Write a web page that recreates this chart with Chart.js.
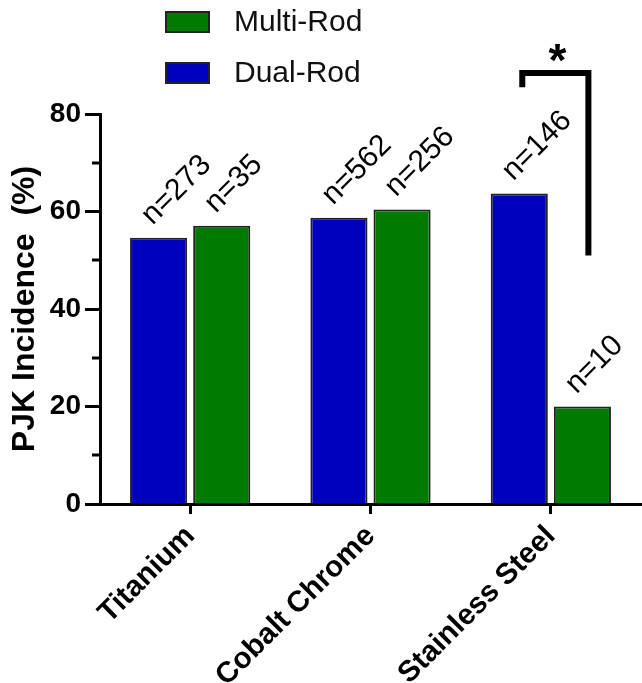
<!DOCTYPE html>
<html>
<head>
<meta charset="utf-8">
<script src="https://cdn.jsdelivr.net/npm/chart.js@4.4.1/dist/chart.umd.min.js"></script>
<style>
  html, body { margin: 0; padding: 0; background: #fff; }
  #wrap { width: 642px; height: 683px; }
</style>
</head>
<body>
<div id="wrap"><canvas id="pjk" width="642" height="683"></canvas></div>
<script>
// PJK incidence by rod material, dual vs multi rod
const categories = ['Titanium', 'Cobalt Chrome', 'Stainless Steel'];
const dualRod = [54.6, 58.7, 63.7];
const multiRod = [57.1, 60.4, 20.0];
const dualN = ['n=273', 'n=562', 'n=146'];
const multiN = ['n=35', 'n=256', 'n=10'];
const yTicks = [0, 20, 40, 60, 80];
const yMinorTicks = [10, 30, 50, 70];
// significance bracket over Stainless Steel (y in axis units)
const sigCategory = 2;
const sigTop = 88.4;
const sigLeftEnd = 85.5;
const sigRightEnd = 51;
const sigMark = '*';

const BLUE = '#0000bf';
const GREEN = '#007a00';
const FONT = "'Liberation Sans', Arial, Helvetica, sans-serif";

// small ticks at the odd tens on the y axis
const minorTicks = {
  id: 'minorTicks',
  afterDraw(chart) {
    const { ctx, scales: { y }, chartArea } = chart;
    ctx.save();
    ctx.strokeStyle = '#000';
    ctx.lineWidth = 3;
    yMinorTicks.forEach(v => {
      const py = Math.round(y.getPixelForValue(v));
      ctx.beginPath();
      ctx.moveTo(chartArea.left - 8, py);
      ctx.lineTo(chartArea.left, py);
      ctx.stroke();
    });
    ctx.restore();
  }
};

// rotated n= labels above each bar
const nLabels = {
  id: 'nLabels',
  afterDatasetsDraw(chart) {
    const { ctx } = chart;
    ctx.save();
    ctx.font = `30px ${FONT}`;
    ctx.fillStyle = '#000';
    ctx.textAlign = 'left';
    ctx.textBaseline = 'alphabetic';
    chart.data.datasets.forEach((ds, di) => {
      const meta = chart.getDatasetMeta(di);
      meta.data.forEach((bar, i) => {
        ctx.save();
        ctx.translate(bar.x - 6, bar.y - 12);
        ctx.rotate(-Math.PI / 4);
        ctx.fillText(ds.nLabels[i], 0, 0);
        ctx.restore();
      });
    });
    ctx.restore();
  }
};

// bracket + asterisk
const sigBracket = {
  id: 'sigBracket',
  afterDraw(chart) {
    const { ctx, scales: { y } } = chart;
    const b1 = chart.getDatasetMeta(0).data[sigCategory];
    const b2 = chart.getDatasetMeta(1).data[sigCategory];
    const x1 = b1.x + 3, x2 = b2.x + 6;
    const yTop = y.getPixelForValue(sigTop);
    ctx.save();
    ctx.strokeStyle = '#000';
    ctx.lineWidth = 6;
    ctx.lineJoin = 'miter';
    ctx.lineCap = 'butt';
    ctx.beginPath();
    ctx.moveTo(x1, y.getPixelForValue(sigLeftEnd));
    ctx.lineTo(x1, yTop);
    ctx.lineTo(x2, yTop);
    ctx.lineTo(x2, y.getPixelForValue(sigRightEnd));
    ctx.stroke();
    ctx.font = `bold 46px ${FONT}`;
    ctx.fillStyle = '#000';
    ctx.textAlign = 'center';
    ctx.textBaseline = 'alphabetic';
    const m = ctx.measureText(sigMark);
    const cy = yTop - 20;
    ctx.fillText(sigMark, (x1 + x2) / 2 + 2, cy + (m.actualBoundingBoxAscent - m.actualBoundingBoxDescent) / 2);
    ctx.restore();
  }
};

// legend stacked top-left, multi rod first
const stackedLegend = {
  id: 'stackedLegend',
  afterDraw(chart) {
    const { ctx } = chart;
    const items = chart.data.datasets.slice().reverse();
    ctx.save();
    ctx.font = `30px ${FONT}`;
    ctx.textAlign = 'left';
    ctx.textBaseline = 'middle';
    items.forEach((ds, i) => {
      const top = 12 + i * 51;
      ctx.fillStyle = ds.backgroundColor;
      ctx.fillRect(166, top, 43, 20);
      ctx.strokeStyle = '#222';
      ctx.lineWidth = 2;
      ctx.strokeRect(166, top, 43, 20);
      ctx.fillStyle = '#111';
      ctx.fillText(ds.label, 234, top + 11);
    });
    ctx.restore();
  }
};

new Chart(document.getElementById('pjk'), {
  type: 'bar',
  data: {
    labels: categories,
    datasets: [
      { label: 'Dual-Rod', data: dualRod, nLabels: dualN, backgroundColor: BLUE, borderColor: '#222', borderWidth: 2 },
      { label: 'Multi-Rod', data: multiRod, nLabels: multiN, backgroundColor: GREEN, borderColor: '#222', borderWidth: 2 }
    ]
  },
  options: {
    responsive: false,
    animation: false,
    events: [],
    categoryPercentage: 0.7,
    barPercentage: 0.905,
    layout: { padding: { top: 114, right: 1, left: 0, bottom: 0 } },
    plugins: { legend: { display: false }, tooltip: { enabled: false } },
    scales: {
      x: {
        afterFit(s) { s.height = 179; },
        grid: { drawOnChartArea: false, offset: false, tickLength: 10, tickWidth: 3, tickColor: '#000' },
        border: { color: '#000', width: 3 },
        ticks: {
          minRotation: 45, maxRotation: 45, padding: 5,
          color: '#000', font: { family: FONT, size: 29.5, weight: 'bold' }
        }
      },
      y: {
        min: 0, max: 80,
        afterFit(s) { s.width = 100; },
        afterBuildTicks(s) { s.ticks = yTicks.map(v => ({ value: v })); },
        grid: { drawOnChartArea: false, tickLength: 15, tickWidth: 3, tickColor: '#000' },
        border: { color: '#000', width: 3 },
        ticks: { padding: 4, color: '#000', font: { family: FONT, size: 28, weight: 'bold' } },
        title: {
          display: true, text: 'PJK Incidence  (%)', color: '#000',
          font: { family: FONT, size: 32, weight: 'bold' }, padding: { top: 6, bottom: 0 }
        }
      }
    }
  },
  plugins: [minorTicks, nLabels, sigBracket, stackedLegend]
});
</script>
</body>
</html>
